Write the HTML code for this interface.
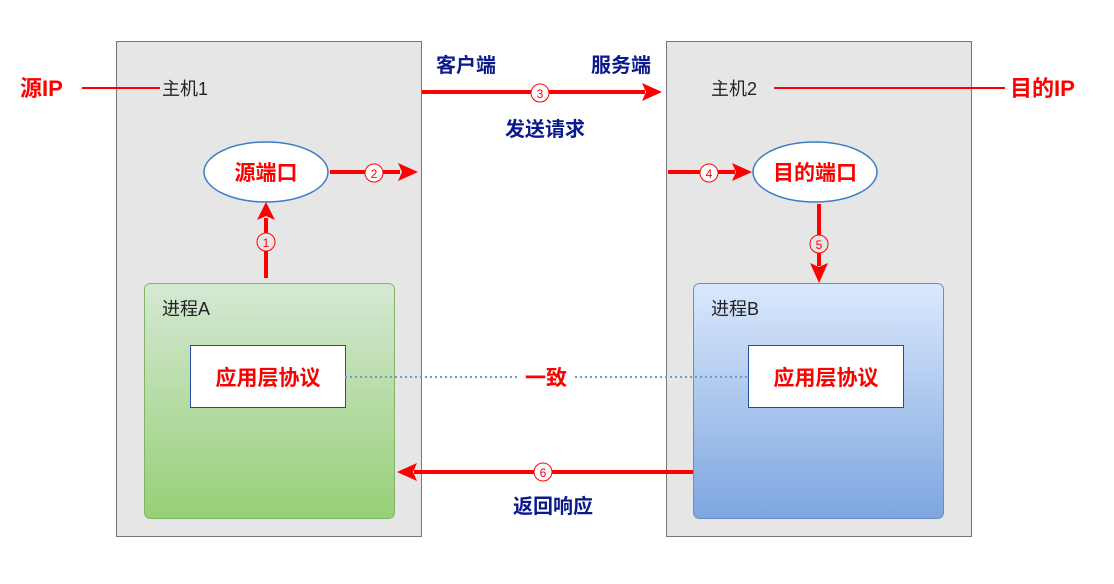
<!DOCTYPE html>
<html><head><meta charset="utf-8"><style>
body{margin:0;background:#fff;}
svg text{font-family:"Liberation Sans","Noto Sans CJK SC",sans-serif;}
</style></head><body>
<svg width="1114" height="579" viewBox="0 0 1114 579" xmlns="http://www.w3.org/2000/svg">
<defs>
<linearGradient id="g" x1="0" y1="0" x2="0" y2="1"><stop offset="0" stop-color="#d5e8d4"/><stop offset="1" stop-color="#97d077"/></linearGradient>
<linearGradient id="b" x1="0" y1="0" x2="0" y2="1"><stop offset="0" stop-color="#dae8fc"/><stop offset="1" stop-color="#7ea6e0"/></linearGradient>
</defs>
<rect x="116.5" y="41.5" width="305" height="495" fill="#e6e6e6" stroke="#777"/>
<rect x="666.5" y="41.5" width="305" height="495" fill="#e6e6e6" stroke="#777"/>
<rect x="144.5" y="283.5" width="250" height="235" rx="6" fill="url(#g)" stroke="#82b366"/>
<rect x="693.5" y="283.5" width="250" height="235" rx="6" fill="url(#b)" stroke="#6c8ebf"/>
<rect x="190.5" y="345.5" width="155" height="62" fill="#fff" stroke="#1f4e9e"/>
<rect x="748.5" y="345.5" width="155" height="62" fill="#fff" stroke="#1f4e9e"/>
<line x1="345" y1="377" x2="748" y2="377" stroke="#6c9bd2" stroke-width="2" stroke-dasharray="2,3"/>
<rect x="518" y="365" width="56" height="24" fill="#fff"/>
<text x="546" y="385" font-size="21" font-weight="bold" fill="#f00" text-anchor="middle">一致</text>
<text x="268" y="385" font-size="21" font-weight="bold" fill="#f00" text-anchor="middle">应用层协议</text>
<text x="826" y="385" font-size="21" font-weight="bold" fill="#f00" text-anchor="middle">应用层协议</text>
<text x="162" y="315" font-size="18" fill="#222">进程A</text>
<text x="711" y="315" font-size="18" fill="#222">进程B</text>
<ellipse cx="266" cy="172" rx="62" ry="30" fill="#fff" stroke="#3d7cc9" stroke-width="1.5"/>
<ellipse cx="815" cy="172" rx="62" ry="30" fill="#fff" stroke="#3d7cc9" stroke-width="1.5"/>
<text x="266" y="180" font-size="21" font-weight="bold" fill="#f00" text-anchor="middle">源端口</text>
<text x="815" y="180" font-size="21" font-weight="bold" fill="#f00" text-anchor="middle">目的端口</text>
<text x="20" y="96" font-size="22" font-weight="bold" fill="#f00">源IP</text>
<line x1="82" y1="88" x2="160" y2="88" stroke="#f00" stroke-width="2"/>
<text x="162" y="95" font-size="18" fill="#222">主机1</text>
<text x="711" y="95" font-size="18" fill="#222">主机2</text>
<line x1="774" y1="88" x2="1005" y2="88" stroke="#f00" stroke-width="2"/>
<text x="1010" y="96" font-size="22" font-weight="bold" fill="#f00">目的IP</text>
<g stroke="#f00" stroke-width="4" fill="none">
<line x1="422" y1="92" x2="645" y2="92"/>
<line x1="266" y1="278" x2="266" y2="218"/>
<line x1="330" y1="172" x2="400" y2="172"/>
<line x1="668" y1="172" x2="735" y2="172"/>
<line x1="819" y1="204" x2="819" y2="266"/>
<line x1="693" y1="472" x2="414" y2="472"/>
</g>
<g fill="#f00">
<polygon points="662,92 642,83 646,92 642,101"/>
<polygon points="266,202 257,220 266,216 275,220"/>
<polygon points="418,172 398,163 402,172 398,181"/>
<polygon points="752,172 732,163 736,172 732,181"/>
<polygon points="819,283 810,263 819,267 828,263"/>
<polygon points="397,472 417,463 413,472 417,481"/>
</g>
<g font-size="15" fill="#f00" text-anchor="middle">
<rect x="530" y="83" width="20" height="20" fill="#e6e6e6" opacity="0"/>
<circle cx="540" cy="93" r="9" fill="#fff" stroke="#f00"/><text x="540" y="98" font-size="12">3</text>
<circle cx="266" cy="242" r="9" fill="#e6e6e6" stroke="#f00"/><text x="266" y="247" font-size="12">1</text>
<circle cx="374" cy="173" r="9" fill="#fff" stroke="#f00"/><text x="374" y="178" font-size="12">2</text>
<circle cx="709" cy="173" r="9" fill="#fff" stroke="#f00"/><text x="709" y="178" font-size="12">4</text>
<circle cx="819" cy="244" r="9" fill="#e6e6e6" stroke="#f00"/><text x="819" y="249" font-size="12">5</text>
<circle cx="543" cy="472" r="9" fill="#fff" stroke="#f00"/><text x="543" y="477" font-size="12">6</text>
</g>
<g font-size="20" font-weight="bold" fill="#0a1a8c" text-anchor="middle">
<text x="466" y="72">客户端</text>
<text x="621" y="72">服务端</text>
<text x="545" y="136">发送请求</text>
<text x="553" y="513">返回响应</text>
</g>
</svg>
</body></html>
